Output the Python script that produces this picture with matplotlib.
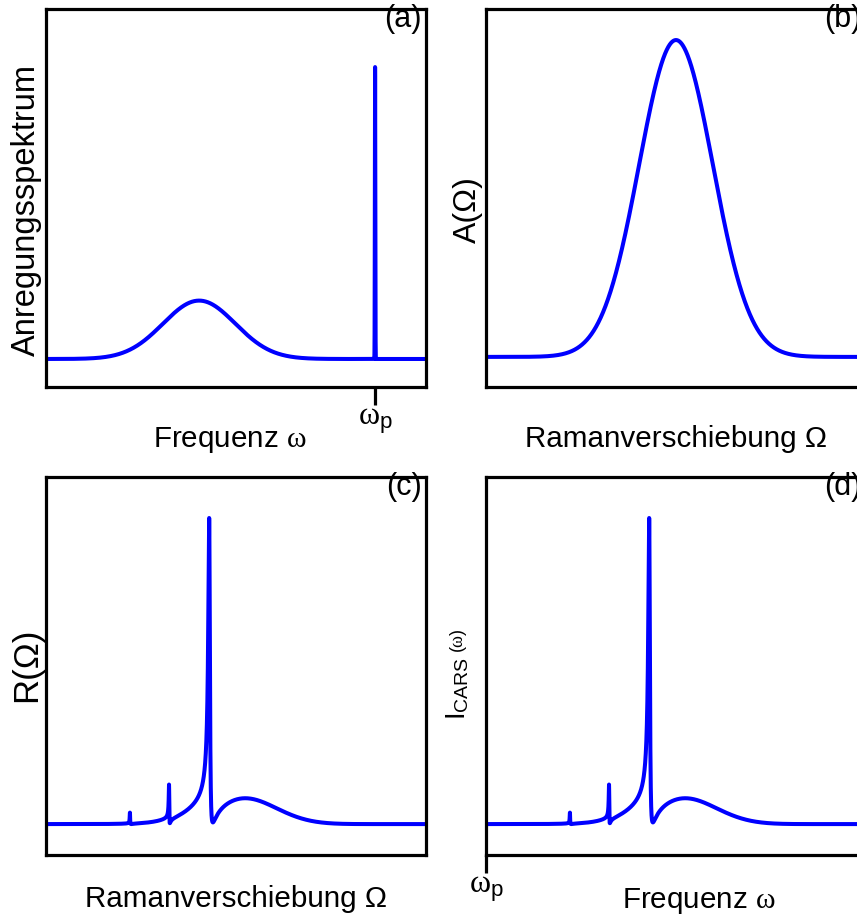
import numpy as np
import matplotlib
matplotlib.use("Agg")
import matplotlib.pyplot as plt

plt.rcParams["font.family"] = ["Liberation Sans", "DejaVu Sans"]
plt.rcParams["mathtext.fontset"] = "custom"
plt.rcParams["mathtext.rm"] = "Liberation Serif"
plt.rcParams["mathtext.sf"] = "Liberation Sans"
plt.rcParams["mathtext.it"] = "Liberation Serif:italic"

BLUE = "#0000ff"

# (a) excitation spectrum: broad Stokes pulse + narrow pump line
stokes_center, stokes_sigma, stokes_height = 0.403, 0.095, 0.20
pump_pos, pump_sigma, pump_height = 0.866, 0.0006, 1.0

# (b) A(Omega)
a_center, a_sigma, a_height = 0.50, 0.097, 1.0

# (c)/(d) R(Omega): non-resonant background + three Raman lines
bg_center, bg_sigma, bg_amp2 = 0.51, 0.13, 33.0
res_pos = [0.221, 0.324, 0.430]
res_amp = [0.002, 0.004, 0.042]
res_width = [0.0006, 0.00072, 0.0025]

x = np.linspace(0, 1, 40001)

exc = stokes_height * np.exp(-(x - stokes_center) ** 2 / (2 * stokes_sigma ** 2))
exc += pump_height * np.exp(-(x - pump_pos) ** 2 / (2 * pump_sigma ** 2))

amp = a_height * np.exp(-(x - a_center) ** 2 / (2 * a_sigma ** 2))

chi = np.sqrt(bg_amp2) * np.exp(-(x - bg_center) ** 2 / (2 * bg_sigma ** 2)) + 0j
for w0, a, g in zip(res_pos, res_amp, res_width):
    chi += a / (w0 - x - 1j * g)
R = np.abs(chi) ** 2
R = R / R.max()

fig = plt.figure(figsize=(8.57, 9.17), dpi=100)
W, H = 380 / 857, 378 / 917
pos = {
    "a": [46 / 857, 1 - 387 / 917, W, H],
    "b": [486 / 857, 1 - 387 / 917, W, H],
    "c": [46 / 857, 1 - 855 / 917, W, H],
    "d": [486 / 857, 1 - 855 / 917, W, H],
}

omega_p = r"$\mathrm{\omega}_{\mathsf{p}}$"


def style(ax, tag, xlabel, ylabel, xl, yl, ylfs=23):
    ax.set_xlim(0, 1)
    for s in ax.spines.values():
        s.set_linewidth(2.3)
    ax.set_yticks([])
    ax.set_xticks([])
    ax.tick_params(axis="x", direction="out", length=13, width=2.3,
                   labelsize=23, pad=1)
    ax.set_xlabel(xlabel, fontsize=21.3)
    ax.xaxis.label.set_va("baseline")
    ax.xaxis.set_label_coords(xl[0], xl[1])
    ax.set_ylabel(ylabel, fontsize=ylfs)
    ax.yaxis.label.set_va("baseline")
    ax.yaxis.set_label_coords(yl[0], yl[1])
    ax.text(0.988, 1.012, tag, transform=ax.transAxes, ha="right", va="top",
            fontsize=22)


ax = fig.add_axes(pos["a"])
ax.plot(x, exc, color=BLUE, lw=2.9)
ax.set_ylim(-0.096, 1.199)
style(ax, "(a)", "Frequenz $\\mathrm{\\omega}$", "Anregungsspektrum",
      (0.485, -0.159), (-0.029, 0.468), ylfs=23.5)
ax.set_xticks([pump_pos])
ax.set_xticklabels([omega_p])

ax = fig.add_axes(pos["b"])
ax.plot(x, amp, color=BLUE, lw=2.9)
ax.set_ylim(-0.095, 1.098)
style(ax, "(b)", "Ramanverschiebung Ω", "A(Ω)", (0.5, -0.159), (-0.026, 0.47))

ax = fig.add_axes(pos["c"])
ax.plot(x, R, color=BLUE, lw=2.9)
ax.set_ylim(-0.101, 1.134)
style(ax, "(c)", "Ramanverschiebung Ω", "R(Ω)", (0.5, -0.138), (-0.026, 0.503),
      ylfs=25)

ax = fig.add_axes(pos["d"])
ax.plot(x, R, color=BLUE, lw=2.9)
ax.set_ylim(-0.101, 1.134)
style(ax, "(d)", "Frequenz $\\mathrm{\\omega}$",
      r"$\mathsf{I}_{\mathsf{CARS}}$", (0.56, -0.14), (-0.055, 0.44), ylfs=20)
ax.text(-0.06, 0.566, r"$\mathsf{(}\mathrm{\omega}\mathsf{)}$",
        transform=ax.transAxes, rotation=90, rotation_mode="anchor",
        ha="center", va="baseline", fontsize=13)
ax.set_xticks([0])
ax.set_xticklabels([omega_p])

fig.savefig("out.png", dpi=100)
